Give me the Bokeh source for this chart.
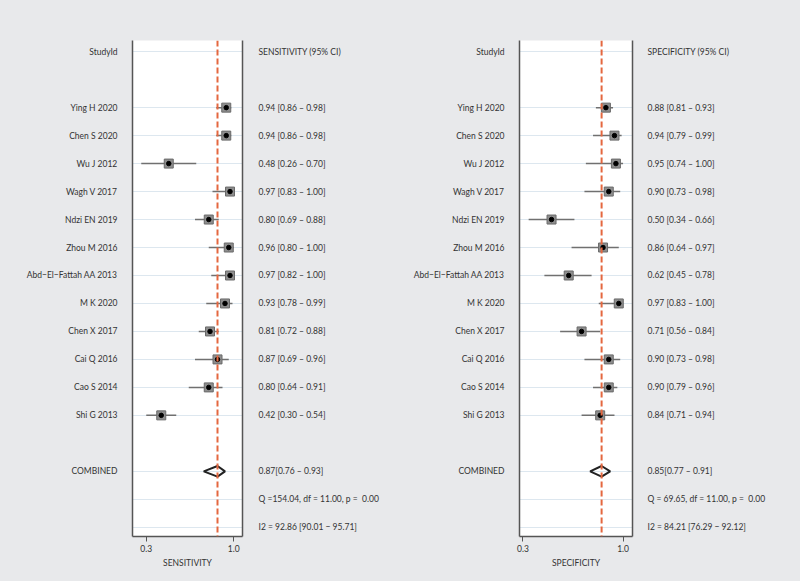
from bokeh.plotting import figure
from bokeh.models import Range1d, FixedTicker, Span, LinearAxis
from bokeh.layouts import row
from bokeh.embed import file_html
from bokeh.resources import INLINE

studies = ["Ying H 2020", "Chen S 2020", "Wu J 2012", "Wagh V 2017", "Ndzi EN 2019",
           "Zhou M 2016", "Abd\u2212El\u2212Fattah AA 2013", "M K 2020", "Chen X 2017",
           "Cai Q 2016", "Cao S 2014", "Shi G 2013"]

sens = [0.94, 0.94, 0.48, 0.97, 0.80, 0.96, 0.97, 0.93, 0.81, 0.87, 0.80, 0.42]
sens_lo = [0.86, 0.86, 0.26, 0.83, 0.69, 0.80, 0.82, 0.78, 0.72, 0.69, 0.64, 0.30]
sens_hi = [0.98, 0.98, 0.70, 1.00, 0.88, 1.00, 1.00, 0.99, 0.88, 0.96, 0.91, 0.54]
sens_comb = [0.87, 0.76, 0.93]
sens_q = "Q =154.04, df = 11.00, p = \u00a00.00"
sens_i2 = "I2 = 92.86 [90.01 \u2212 95.71]"

spec = [0.88, 0.94, 0.95, 0.90, 0.50, 0.86, 0.62, 0.97, 0.71, 0.90, 0.90, 0.84]
spec_lo = [0.81, 0.79, 0.74, 0.73, 0.34, 0.64, 0.45, 0.83, 0.56, 0.73, 0.79, 0.71]
spec_hi = [0.93, 0.99, 1.00, 0.98, 0.66, 0.97, 0.78, 1.00, 0.84, 0.98, 0.96, 0.94]
spec_comb = [0.85, 0.77, 0.91]
spec_q = "Q = 69.65, df = 11.00, p = \u00a00.00"
spec_i2 = "I2 = 84.21 [76.29 \u2212 92.12]"

x_ticks = [0.3, 1.0]
x_tick_labels = ["0.3", "1.0"]

FONT = "Lato"
FS = "8.5px"
TXT = "#333333"
BG = "#e8e9eb"


def panel(name, est, lo, hi, comb, qtxt, i2txt, xr, width, ml, mr, lso, rso):
    rows = list(range(2, 2 + len(est)))
    comb_row = rows[-1] + 2
    q_row = comb_row + 1
    i2_row = comb_row + 2

    p = figure(width=width, height=581, output_backend="svg", toolbar_location=None,
               x_range=Range1d(*xr), y_range=Range1d(17.33, -0.4),
               min_border_left=ml, min_border_right=mr, min_border_top=40,
               min_border_bottom=45)
    p.background_fill_color = "white"
    p.border_fill_color = BG
    p.outline_line_color = None
    p.xgrid.visible = False
    p.ygrid.ticker = FixedTicker(ticks=[0] + rows + [comb_row, q_row, i2_row])
    p.ygrid.grid_line_color = "#dde7ef"
    p.ygrid.grid_line_width = 1

    # x axis
    xa = p.xaxis[0]
    xa.ticker = FixedTicker(ticks=x_ticks)
    xa.major_label_overrides = {t: l for t, l in zip(x_ticks, x_tick_labels)}
    xa.minor_tick_line_color = None
    xa.major_tick_in = 0
    xa.major_tick_out = 5
    xa.major_tick_line_color = "#555555"
    xa.axis_line_color = "#555555"
    xa.axis_line_width = 1.5
    xa.axis_label = name
    xa.axis_label_text_font_style = "normal"
    xa.axis_label_text_font = FONT
    xa.axis_label_text_font_size = FS
    xa.axis_label_text_color = TXT
    xa.axis_label_standoff = 3
    xa.major_label_standoff = 3
    xa.major_label_text_font = FONT
    xa.major_label_text_font_size = FS
    xa.major_label_text_color = TXT

    # left axis: study ids
    ya = p.yaxis[0]
    ya.ticker = FixedTicker(ticks=[0] + rows + [comb_row])
    left_labels = {0: "StudyId", comb_row: "COMBINED"}
    for r, s in zip(rows, studies):
        left_labels[r] = s
    ya.major_label_overrides = left_labels
    ya.major_tick_line_color = None
    ya.minor_tick_line_color = None
    ya.major_tick_in = 0
    ya.major_tick_out = 0
    ya.minor_tick_in = 0
    ya.minor_tick_out = 0
    ya.axis_line_color = "#555555"
    ya.axis_line_width = 1.5
    ya.major_label_standoff = lso
    ya.major_label_text_font = FONT
    ya.major_label_text_font_size = FS
    ya.major_label_text_color = TXT

    # right axis: estimates
    ra = LinearAxis()
    ra.ticker = FixedTicker(ticks=[0] + rows + [comb_row, q_row, i2_row])
    right_labels = {0: f"{name} (95% CI)",
                    comb_row: f"{comb[0]:.2f}[{comb[1]:.2f} \u2013 {comb[2]:.2f}]",
                    q_row: qtxt, i2_row: i2txt}
    for r, e, l, h in zip(rows, est, lo, hi):
        right_labels[r] = f"{e:.2f} [{l:.2f} \u2013 {h:.2f}]"
    ra.major_label_overrides = right_labels
    ra.major_tick_line_color = None
    ra.minor_tick_line_color = None
    ra.major_tick_in = 0
    ra.major_tick_out = 0
    ra.minor_tick_in = 0
    ra.minor_tick_out = 0
    ra.axis_line_color = "#555555"
    ra.axis_line_width = 1.5
    ra.major_label_standoff = rso
    ra.major_label_text_font = FONT
    ra.major_label_text_font_size = FS
    ra.major_label_text_color = TXT
    p.add_layout(ra, "right")

    # pooled estimate line
    p.add_layout(Span(location=comb[0], dimension="height", line_color="#e4673f",
                      line_dash="6 3", line_width=2))

    # CIs and markers
    p.segment(x0=lo, x1=hi, y0=rows, y1=rows, line_color="#707070", line_width=1.5)
    p.scatter(x=est, y=rows, marker="square", size=9, fill_color="#8e8e8e",
              line_color="#6a6a6a", line_width=1)
    p.scatter(x=est, y=rows, marker="circle", size=4.5, fill_color="black",
              line_color="black")

    # combined diamond
    h = 0.19
    p.patch(x=[comb[1], comb[0], comb[2], comb[0], comb[1]],
            y=[comb_row, comb_row - h, comb_row, comb_row + h, comb_row],
            fill_color=None, line_color="#222222", line_width=2)
    return p


p1 = panel("SENSITIVITY", sens, sens_lo, sens_hi, sens_comb, sens_q, sens_i2,
           (0.19, 1.07), 390, 132, 148, 15, 16)
p2 = panel("SPECIFICITY", spec, spec_lo, spec_hi, spec_comb, spec_q, spec_i2,
           (0.276, 1.066), 410, 129, 168, 15, 15)

layout = row(p1, p2, spacing=0, styles={"background-color": BG})
html = file_html(layout, INLINE)
html = html.replace("<body>", '<body style="background:#e8e9eb">', 1)
open("out.html", "w").write(html)
